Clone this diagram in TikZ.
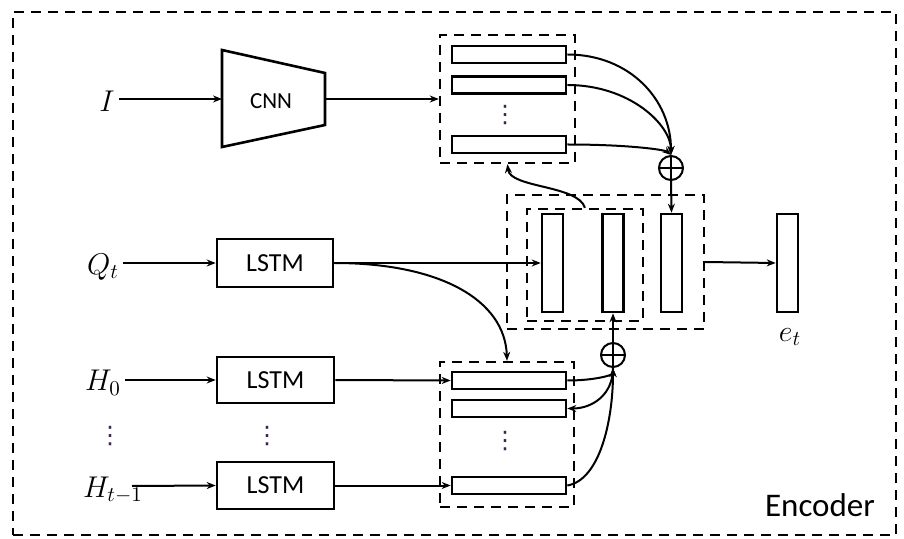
\RequirePackage{fix-cm}
\documentclass[tikz,border=0pt]{standalone}
\usepackage{fontspec}
\newfontfamily\carl{Carlito}
\newfontfamily\dvs{DejaVu Sans}
\usetikzlibrary{arrows.meta}
\definecolor{dotcol}{RGB}{60,35,80}
\begin{document}
\begin{tikzpicture}[x=0.5pt,y=-0.5pt,
 box/.style={draw,line width=1.3pt,inner sep=0pt},
 bar/.style={draw,line width=1.3pt,inner sep=0pt,fill=white},
 hbar/.style={bar,minimum width=57pt,minimum height=8.5pt},
 vbar/.style={bar,minimum width=10.5pt,minimum height=49pt},
 dbox/.style={draw,dash pattern=on 5pt off 3.5pt,line width=1.2pt,inner sep=0pt},
 arr/.style={-{Stealth[length=4.5pt,width=3.5pt]},line width=1pt},
 lbl/.style={inner sep=2pt,font=\fontsize{15}{17}\selectfont},
 sans/.style={inner sep=0pt,font=\carl\fontsize{13}{15}\selectfont},
 dots/.style={inner sep=0pt,text=dotcol,font=\dvs\fontsize{12}{13}\selectfont},
 opl/.style={circle,draw,line width=1pt,minimum size=12pt,inner sep=0pt,
   path picture={\draw[line width=1pt] (path picture bounding box.north) -- (path picture bounding box.south)
     (path picture bounding box.west) -- (path picture bounding box.east);}}
]
\useasboundingbox (0,0) rectangle (904,539);
% outer border
\node[dbox,minimum width=441.5pt,minimum height=261.5pt] (outer) at (454.5,273.5) {};
\node[sans,font=\carl\fontsize{16.5}{18}\selectfont] (enc) at (820,505) {Encoder};

% CNN
\draw[box] (222,50) -- (325,73) -- (325,125) -- (222,147) -- cycle;
\coordinate (cnnW) at (222,99);
\coordinate (cnnE) at (325,99);
\node[sans,font=\carl\fontsize{11.5}{13}\selectfont] (cnn) at (271,101) {CNN};
\node[lbl] (I) at (107,101) {$I$};

% top dashed box with bars
\node[dbox,minimum width=67.5pt,minimum height=64pt] (topbox) at (507.5,99) {};
\node[hbar] (t1) at (509,54.5) {};
\node[hbar] (t2) at (509,85) {};
\node[dots] (tdots) at (505,115) {⋮};
\node[hbar] (t3) at (509,144.5) {};

% top oplus
\node[opl] (op1) at (671,168) {};

% middle boxes
\node[dbox,minimum width=98.5pt,minimum height=67pt] (midout) at (605.5,262) {};
\node[dbox,minimum width=58pt,minimum height=56pt] (midin) at (585,265) {};
\node[vbar] (bA) at (552.5,263) {};
\node[vbar] (bB) at (613,263) {};
\node[vbar] (bC) at (671.5,263) {};
\node[vbar] (et) at (787.5,263) {};
\node[lbl] (etl) at (790,337) {$e_t$};

% LSTMs
\node[box,minimum width=58pt,minimum height=24pt,sans] (lq) at (275,263) {LSTM};
\node[box,minimum width=58.5pt,minimum height=23pt,sans] (l0) at (275.5,380) {LSTM};
\node[box,minimum width=58.5pt,minimum height=23.5pt,sans] (lt) at (275.5,485.5) {LSTM};
\node[dots] (ldots) at (267,436) {⋮};

\node[lbl] (Q) at (103,267) {$Q_t$};
\node[lbl] (H0) at (103,383) {$H_0$};
\node[dots] (hdots) at (110,436) {⋮};
\node[lbl] (Ht) at (113,490) {$H_{t-1}$};
\coordinate (hts) at (132,486);

% lower dashed box with bars
\node[dbox,minimum width=67pt,minimum height=72.5pt] (lowbox) at (507,434.5) {};
\node[hbar] (b1) at (509,380.5) {};
\node[hbar] (b2) at (509,408.5) {};
\node[dots] (bdots) at (505,441) {⋮};
\node[hbar] (b3) at (509,485.5) {};

% lower oplus
\node[opl] (op2) at (613,355) {};

% connectors
\draw[arr] (I.east |- cnnW) -- (cnnW);
\draw[arr] (cnnE) -- (topbox.west);
\draw[arr] (Q.east |- lq.west) -- (lq.west);
\draw[arr] (H0.east |- l0.west) -- (l0.west);
\draw[arr] (hts) -- (lt.west);
\draw[arr] (lq.east) -- (bA.west);
\draw[arr] (lq.east) .. controls (440,263) and (505,300) .. (lowbox.north);
\draw[arr] (l0.east) -- (b1.west);
\draw[arr] (lt.east) -- (b3.west);

\draw[arr] (t1.east) .. controls (630,54.5) and (671,100) .. (op1.north);
\draw[arr] (t2.east) .. controls (630,85) and (671,125) .. (op1.north);
\draw[arr] (t3.east) .. controls (630,144.5) and (665,150) .. (op1.north);
\draw[arr] (op1.south) -- (bC.north);

\draw[arr] (b1.east) .. controls (595,380.5) and (613,375) .. (op2.south);
\draw[arr] (op2.south) .. controls (613,395) and (592,408.5) .. (b2.east);
\draw[arr] (b3.east) .. controls (600,480) and (613,420) .. (op2.south);
\draw[arr] (op2.north) -- (bB.south);

\draw[arr] (midin.north) .. controls (578,185) and (510,188) .. (topbox.south);
\draw[arr] (midout.east) -- (et.west);
\end{tikzpicture}
\end{document}
